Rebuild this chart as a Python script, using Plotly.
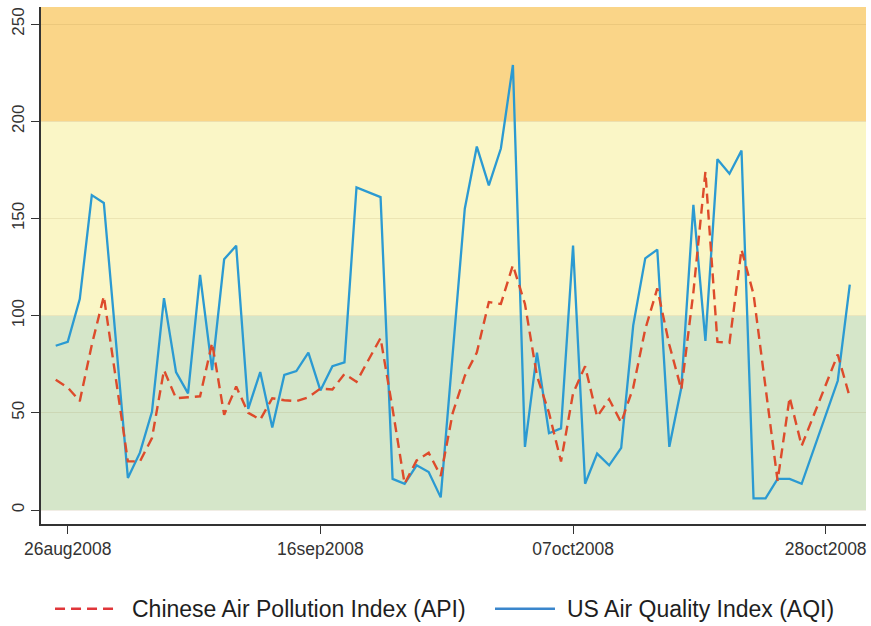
import plotly.graph_objects as go
import pandas as pd

# Daily observations, 25 Aug 2008 .. 30 Oct 2008 (None = no observation)
dates = pd.date_range("2008-08-25", "2008-10-30", freq="D").strftime("%Y-%m-%d").tolist()

api = [67, 63, 56, 85, 110, None, 25, 25, 37, 72,
       57.5, 58, 58.5, 86, 49, 63.5, 50, 46.5, 57.5, 56.5,
       56, 58, 62.5, 62, 70, 66, None, 88.5, 52, 13.5,
       25.5, 29.5, 17.5, 50, 69, 81, 107, 106, 126, 106,
       69, 50, 25, 60, 74, 48, 57, 45, 63, 93,
       114, 85, 62, 112, 174, 86.5, 86, 134, 111, 62,
       15, 58, 33, None, None, 80, 58]

aqi = [84.5, 86.5, 108.5, 162, 158, None, 16.5, 29.5, 50.5, 109,
       71, 60, 121, 72, 129, 136, 52, 71, 42.5, 69.5,
       71.5, 81, 61.5, 74, 76, 166, None, 161, 16, 13.5,
       23, 19.5, 6.5, None, 155, 187, 167, 186, 229, 32.5,
       81, 39.5, 42, 136, 13.5, 29, 23, 32, 95, 129.5,
       134, 32.5, 63, 157, 87, 180.5, 173, 185, 6, 6,
       16, 16, 13.5, None, None, 66.5, 116]

tick_dates = ["2008-08-26", "2008-09-16", "2008-10-07", "2008-10-28"]
tick_labels = ["26aug2008", "16sep2008", "07oct2008", "28oct2008"]
y_ticks = [0, 50, 100, 150, 200, 250]

band_edges = [0, 100, 200, 300]
band_colors = ["#D5E6C9", "#FAF6C6", "#FAD588"]

API_NAME = "Chinese Air Pollution Index (API)"
AQI_NAME = "US Air Quality Index (AQI)"
API_COLOR = "#DD4B2B"
AQI_COLOR = "#2B9AD2"
API_DASH = "10px,6px"

FONT = "Liberation Sans, Arial, sans-serif"

fig = go.Figure()

fig.add_trace(go.Scatter(
    x=dates, y=aqi, mode="lines", name=AQI_NAME, showlegend=False,
    line=dict(color=AQI_COLOR, width=2.3), connectgaps=True,
))
fig.add_trace(go.Scatter(
    x=dates, y=api, mode="lines", name=API_NAME, showlegend=False,
    line=dict(color=API_COLOR, width=2.4, dash=API_DASH), connectgaps=True,
))

for i in range(3):
    fig.add_shape(type="rect", xref="x domain", yref="y",
                  x0=0, x1=1, y0=band_edges[i], y1=band_edges[i + 1],
                  fillcolor=band_colors[i], line=dict(width=0), layer="below")

# legend drawn below the plot (paper coordinates)
LEG_Y = -0.164
fig.add_shape(type="line", xref="paper", yref="paper", x0=0.017, x1=0.0897, y0=LEG_Y, y1=LEG_Y,
              line=dict(color="#E0363A", width=2.6, dash=API_DASH))
fig.add_shape(type="line", xref="paper", yref="paper", x0=0.5503, x1=0.623, y0=LEG_Y, y1=LEG_Y,
              line=dict(color="#3A86CC", width=2.6))
fig.add_annotation(text=API_NAME, xref="paper", yref="paper", x=0.1079, y=LEG_Y,
                   xanchor="left", yanchor="middle", showarrow=False,
                   font=dict(family=FONT, size=23, color="#1E1E1E"))
fig.add_annotation(text=AQI_NAME, xref="paper", yref="paper", x=0.6352, y=LEG_Y,
                   xanchor="left", yanchor="middle", showarrow=False,
                   font=dict(family=FONT, size=23, color="#1E1E1E"))

fig.update_layout(
    width=871, height=626,
    margin=dict(l=41, r=5, t=7, b=102, autoexpand=False),
    paper_bgcolor="white", plot_bgcolor="white",
    font=dict(family=FONT, color="#333333", size=17),
    showlegend=False,
)

fig.update_xaxes(
    type="date", automargin=False,
    range=["2008-08-23 18:40", "2008-10-31 08:20"],
    tickmode="array", tickvals=tick_dates, ticktext=tick_labels,
    ticks="outside", ticklen=8, tickwidth=1.3, tickcolor="#333333",
    showline=True, linecolor="#333333", linewidth=1.5,
    showgrid=False, zeroline=False,
    tickfont=dict(family=FONT, size=17.5, color="#333333"),
)
fig.update_yaxes(
    automargin=False,
    range=[-7.2, 258.8],
    tickmode="array", tickvals=y_ticks,
    tickangle=-90,
    ticks="outside", ticklen=8, tickwidth=1.3, tickcolor="#333333",
    showline=True, linecolor="#333333", linewidth=1.5,
    showgrid=True, gridcolor="rgba(140,110,40,0.12)", gridwidth=1,
    zeroline=False,
    tickfont=dict(family=FONT, size=17, color="#333333"),
)

fig.write_html("out.html", config={"displayModeBar": False},
               post_script="document.body.style.margin='0';")
